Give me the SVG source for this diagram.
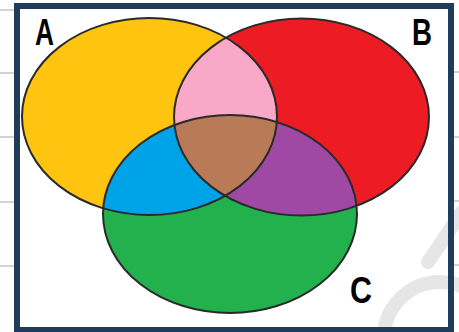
<svg xmlns="http://www.w3.org/2000/svg" width="459" height="332" viewBox="0 0 459 332">
  <style>
    .rule { stroke: #c4c4c4; stroke-width: 1.5; }
    .outline { fill: none; stroke: #2a2a2a; stroke-width: 2; }
    .label { font-family: "Liberation Sans", "DejaVu Sans", sans-serif; font-weight: bold; font-size: 37px; fill: #000; }
  </style>
  <defs>
    <ellipse id="eA" cx="149.5" cy="116.5" rx="127.5" ry="98.5"/>
    <ellipse id="eB" cx="301.5" cy="117" rx="127.5" ry="98.5"/>
    <ellipse id="eC" cx="230" cy="214" rx="127" ry="99"/>
    <clipPath id="clipA"><use href="#eA"/></clipPath>
    <clipPath id="clipB"><use href="#eB"/></clipPath>
  </defs>
  <rect x="0" y="0" width="459" height="332" fill="#ffffff"/>
  <g id="rules">
    <line class="rule" x1="0" y1="10" x2="16" y2="10"/>
    <line class="rule" x1="0" y1="73" x2="16" y2="73"/>
    <line class="rule" x1="0" y1="137" x2="16" y2="137"/>
    <line class="rule" x1="0" y1="202" x2="16" y2="202"/>
    <line class="rule" x1="0" y1="266" x2="16" y2="266"/>
    <line class="rule" x1="450" y1="72" x2="459" y2="72"/>
    <line class="rule" x1="450" y1="137" x2="459" y2="137"/>
    <line class="rule" x1="450" y1="201" x2="459" y2="201"/>
    <line class="rule" x1="450" y1="265" x2="459" y2="265"/>
  </g>
  <g id="watermark" fill="none" stroke="#e6e6e6" stroke-width="14" stroke-linecap="round">
    <circle cx="440" cy="338" r="56"/>
    <line x1="428" y1="262" x2="462" y2="212"/>
  </g>
  <g id="fills">
    <use href="#eA" fill="#fec40f"/>
    <use href="#eB" fill="#ed1c24"/>
    <use href="#eC" fill="#22b14c"/>
    <use href="#eB" fill="#f9a8c8" clip-path="url(#clipA)"/>
    <use href="#eC" fill="#00a2e8" clip-path="url(#clipA)"/>
    <use href="#eC" fill="#a049a4" clip-path="url(#clipB)"/>
    <g clip-path="url(#clipA)">
      <use href="#eC" fill="#b97a57" clip-path="url(#clipB)"/>
    </g>
  </g>
  <g id="A">
    <use href="#eA" class="outline"/>
    <text class="label" x="35" y="45" textLength="19" lengthAdjust="spacingAndGlyphs">A</text>
  </g>
  <g id="B">
    <use href="#eB" class="outline"/>
    <text class="label" x="412" y="45" textLength="20" lengthAdjust="spacingAndGlyphs">B</text>
  </g>
  <g id="C">
    <use href="#eC" class="outline"/>
    <text class="label" x="350" y="303" textLength="22" lengthAdjust="spacingAndGlyphs">C</text>
  </g>
  <rect id="frame" x="17" y="6" width="434" height="324" fill="none" stroke="#1f3d5a" stroke-width="6"/>
</svg>
